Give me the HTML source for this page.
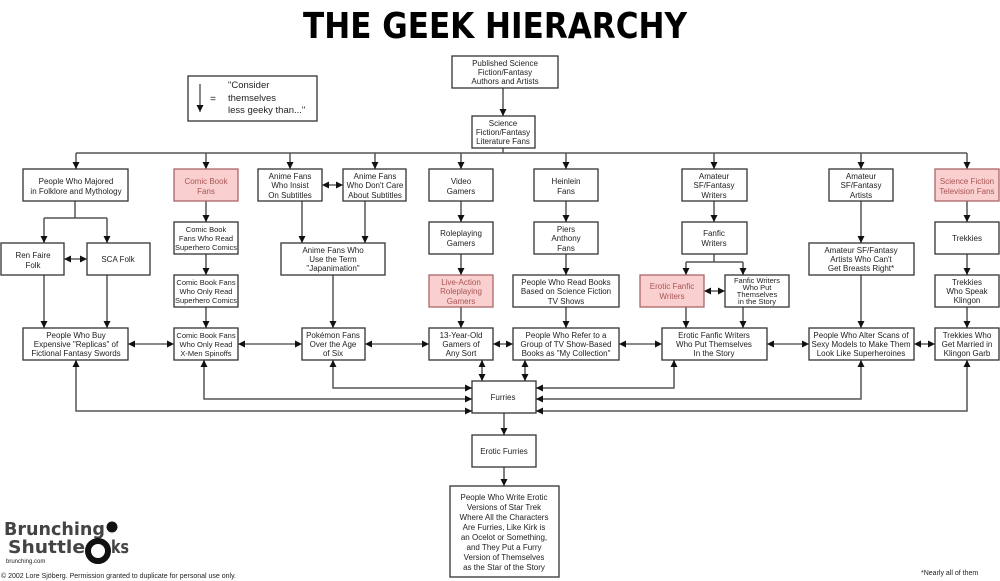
<!DOCTYPE html>
<html><head><meta charset="utf-8"><style>
body{margin:0;background:#fff}
svg{display:block}
text{font-family:"Liberation Sans",Arial,sans-serif;font-size:8px;fill:#222;text-anchor:middle}
.b{fill:#fff;stroke:#333;stroke-width:1.3}
.p{fill:#f9cfcf;stroke:#a66;stroke-width:1.3}
.pt{fill:#a55}
.l{stroke:#555;stroke-width:1.5;fill:none}
.k{stroke:#111;stroke-width:1;fill:none}
.lg{font-family:'DejaVu Sans Condensed','DejaVu Sans',sans-serif;font-weight:bold;font-size:18px;fill:#444;text-anchor:start}
</style></head><body>
<svg width="1000" height="581" viewBox="0 0 1000 581" xmlns="http://www.w3.org/2000/svg">
<defs>
<marker id="a" viewBox="0 0 8 8" refX="8" refY="4" markerWidth="7" markerHeight="7" markerUnits="userSpaceOnUse" orient="auto-start-reverse"><path d="M0,0 L8,4 L0,8 z" fill="#111"/></marker>
</defs>
<text x="495" y="38" style="font-family:'DejaVu Sans Condensed','DejaVu Sans',sans-serif;font-weight:bold;font-size:36px;fill:#000" textLength="384" lengthAdjust="spacingAndGlyphs">THE GEEK HIERARCHY</text>

<!-- legend -->
<rect x="188" y="76" width="129" height="45" class="b"/>
<line x1="200" y1="84" x2="200" y2="112" class="k" marker-end="url(#a)"/>
<text x="213" y="102" style="font-size:10px">=</text>
<text x="228" y="88" style="text-anchor:start;font-size:9.5px">"Consider</text><text x="228" y="101" style="text-anchor:start;font-size:9.5px">themselves</text><text x="228" y="113" style="text-anchor:start;font-size:9.5px">less geeky than..."</text>

<!-- connectors -->
<g class="l">
<line x1="503" y1="88" x2="503" y2="116" marker-end="url(#a)"/>
<line x1="503" y1="148" x2="503" y2="153"/>
<line x1="76" y1="153" x2="967" y2="153"/>
<line x1="76" y1="153" x2="76" y2="169" marker-end="url(#a)"/>
<line x1="206" y1="153" x2="206" y2="169" marker-end="url(#a)"/>
<line x1="290" y1="153" x2="290" y2="169" marker-end="url(#a)"/>
<line x1="375" y1="153" x2="375" y2="169" marker-end="url(#a)"/>
<line x1="461" y1="153" x2="461" y2="169" marker-end="url(#a)"/>
<line x1="566" y1="153" x2="566" y2="169" marker-end="url(#a)"/>
<line x1="714" y1="153" x2="714" y2="169" marker-end="url(#a)"/>
<line x1="861" y1="153" x2="861" y2="169" marker-end="url(#a)"/>
<line x1="967" y1="153" x2="967" y2="169" marker-end="url(#a)"/>
<line x1="75" y1="201" x2="75" y2="218"/>
<line x1="44" y1="218" x2="107" y2="218"/>
<line x1="44" y1="218" x2="44" y2="243" marker-end="url(#a)"/>
<line x1="107" y1="218" x2="107" y2="243" marker-end="url(#a)"/>
<line x1="44" y1="275" x2="44" y2="328" marker-end="url(#a)"/>
<line x1="107" y1="275" x2="107" y2="328" marker-end="url(#a)"/>
<line x1="206" y1="201" x2="206" y2="222" marker-end="url(#a)"/>
<line x1="206" y1="254" x2="206" y2="275" marker-end="url(#a)"/>
<line x1="206" y1="307" x2="206" y2="328" marker-end="url(#a)"/>
<line x1="302" y1="201" x2="302" y2="243" marker-end="url(#a)"/>
<line x1="365" y1="201" x2="365" y2="243" marker-end="url(#a)"/>
<line x1="333" y1="275" x2="333" y2="328" marker-end="url(#a)"/>
<line x1="461" y1="201" x2="461" y2="222" marker-end="url(#a)"/>
<line x1="461" y1="254" x2="461" y2="275" marker-end="url(#a)"/>
<line x1="461" y1="307" x2="461" y2="328" marker-end="url(#a)"/>
<line x1="566" y1="201" x2="566" y2="222" marker-end="url(#a)"/>
<line x1="566" y1="254" x2="566" y2="275" marker-end="url(#a)"/>
<line x1="566" y1="307" x2="566" y2="328" marker-end="url(#a)"/>
<line x1="714" y1="201" x2="714" y2="222" marker-end="url(#a)"/>
<line x1="714" y1="254" x2="714" y2="262"/>
<line x1="686" y1="262" x2="743" y2="262"/>
<line x1="686" y1="262" x2="686" y2="275" marker-end="url(#a)"/>
<line x1="743" y1="262" x2="743" y2="275" marker-end="url(#a)"/>
<line x1="686" y1="307" x2="686" y2="328" marker-end="url(#a)"/>
<line x1="743" y1="307" x2="743" y2="328" marker-end="url(#a)"/>
<line x1="861" y1="201" x2="861" y2="243" marker-end="url(#a)"/>
<line x1="861" y1="275" x2="861" y2="328" marker-end="url(#a)"/>
<line x1="967" y1="201" x2="967" y2="222" marker-end="url(#a)"/>
<line x1="967" y1="254" x2="967" y2="275" marker-end="url(#a)"/>
<line x1="967" y1="307" x2="967" y2="328" marker-end="url(#a)"/>
<polyline points="472,411 76,411 76,360" marker-start="url(#a)" marker-end="url(#a)"/>
<polyline points="472,399 204,399 204,360" marker-start="url(#a)" marker-end="url(#a)"/>
<polyline points="472,388 333,388 333,360" marker-start="url(#a)" marker-end="url(#a)"/>
<polyline points="536,388 674,388 674,360" marker-start="url(#a)" marker-end="url(#a)"/>
<polyline points="536,399 861,399 861,360" marker-start="url(#a)" marker-end="url(#a)"/>
<polyline points="536,411 967,411 967,360" marker-start="url(#a)" marker-end="url(#a)"/>
<line x1="482" y1="360" x2="482" y2="381" marker-start="url(#a)" marker-end="url(#a)"/>
<line x1="525" y1="360" x2="525" y2="381" marker-start="url(#a)" marker-end="url(#a)"/>
<line x1="504" y1="413" x2="504" y2="435" marker-end="url(#a)"/>
<line x1="504" y1="467" x2="504" y2="486" marker-end="url(#a)"/>
</g>
<g class="k">
<line x1="64" y1="259" x2="87" y2="259" marker-start="url(#a)" marker-end="url(#a)"/>
<line x1="322" y1="185" x2="343" y2="185" marker-start="url(#a)" marker-end="url(#a)"/>
<line x1="704" y1="291" x2="725" y2="291" marker-start="url(#a)" marker-end="url(#a)"/>
<line x1="128" y1="344" x2="174" y2="344" marker-start="url(#a)" marker-end="url(#a)"/>
<line x1="238" y1="344" x2="302" y2="344" marker-start="url(#a)" marker-end="url(#a)"/>
<line x1="365" y1="344" x2="429" y2="344" marker-start="url(#a)" marker-end="url(#a)"/>
<line x1="493" y1="344" x2="513" y2="344" marker-start="url(#a)" marker-end="url(#a)"/>
<line x1="619" y1="344" x2="662" y2="344" marker-start="url(#a)" marker-end="url(#a)"/>
<line x1="767" y1="344" x2="809" y2="344" marker-start="url(#a)" marker-end="url(#a)"/>
<line x1="914" y1="344" x2="935" y2="344" marker-start="url(#a)" marker-end="url(#a)"/>
</g>

<rect x="452" y="56" width="106" height="32" class="b"/>
<text x="505" y="66">Published Science</text><text x="505" y="75">Fiction/Fantasy</text><text x="505" y="84">Authors and Artists</text>
<rect x="472" y="116" width="63" height="32" class="b"/>
<text x="503" y="126">Science</text><text x="503" y="135">Fiction/Fantasy</text><text x="503" y="144">Literature Fans</text>

<rect x="23" y="169" width="105" height="32" class="b"/>
<text x="76" y="184">People Who Majored</text><text x="76" y="194">in Folklore and Mythology</text>
<rect x="174" y="169" width="64" height="32" class="p"/>
<text x="206" y="184" class="pt">Comic Book</text><text x="206" y="194" class="pt">Fans</text>
<rect x="258" y="169" width="64" height="32" class="b"/>
<text x="290" y="179">Anime Fans</text><text x="290" y="188">Who  Insist</text><text x="290" y="198">On Subtitles</text>
<rect x="343" y="169" width="63" height="32" class="b"/>
<text x="375" y="179">Anime Fans</text><text x="375" y="188">Who Don't Care</text><text x="375" y="198">About Subtitles</text>
<rect x="429" y="169" width="64" height="32" class="b"/>
<text x="461" y="184">Video</text><text x="461" y="194">Gamers</text>
<rect x="534" y="169" width="64" height="32" class="b"/>
<text x="566" y="184">Heinlein</text><text x="566" y="194">Fans</text>
<rect x="682" y="169" width="65" height="32" class="b"/>
<text x="714" y="179">Amateur</text><text x="714" y="188">SF/Fantasy</text><text x="714" y="198">Writers</text>
<rect x="829" y="169" width="64" height="32" class="b"/>
<text x="861" y="179">Amateur</text><text x="861" y="188">SF/Fantasy</text><text x="861" y="198">Artists</text>
<rect x="935" y="169" width="64" height="32" class="p"/>
<text x="967" y="184" class="pt">Science Fiction</text><text x="967" y="194" class="pt">Television Fans</text>

<rect x="1" y="243" width="63" height="32" class="b"/>
<text x="33" y="258">Ren Faire</text><text x="33" y="268">Folk</text>
<rect x="87" y="243" width="63" height="32" class="b"/>
<text x="118" y="262">SCA Folk</text>
<rect x="174" y="222" width="64" height="32" class="b"/>
<text x="206" y="232" style="font-size:7.5px">Comic Book</text><text x="206" y="241" style="font-size:7.5px">Fans Who Read</text><text x="206" y="250" style="font-size:7.5px">Superhero Comics</text>
<rect x="174" y="275" width="64" height="32" class="b"/>
<text x="206" y="285" style="font-size:7.5px">Comic Book Fans</text><text x="206" y="294" style="font-size:7.5px">Who  Only Read</text><text x="206" y="303" style="font-size:7.5px">Superhero Comics</text>
<rect x="281" y="243" width="104" height="32" class="b"/>
<text x="333" y="253">Anime Fans Who</text><text x="333" y="262">Use the Term</text><text x="333" y="271">"Japanimation"</text>
<rect x="429" y="222" width="64" height="32" class="b"/>
<text x="461" y="236">Roleplaying</text><text x="461" y="246">Gamers</text>
<rect x="429" y="275" width="64" height="32" class="p"/>
<text x="461" y="285" class="pt">Live-Action</text><text x="461" y="294" class="pt">Roleplaying</text><text x="461" y="304" class="pt">Gamers</text>
<rect x="534" y="222" width="64" height="32" class="b"/>
<text x="566" y="232">Piers</text><text x="566" y="241">Anthony</text><text x="566" y="251">Fans</text>
<rect x="513" y="275" width="106" height="32" class="b"/>
<text x="566" y="285">People Who Read Books</text><text x="566" y="294">Based on Science Fiction</text><text x="566" y="304">TV Shows</text>
<rect x="682" y="222" width="65" height="32" class="b"/>
<text x="714" y="236">Fanfic</text><text x="714" y="246">Writers</text>
<rect x="640" y="275" width="64" height="32" class="p"/>
<text x="672" y="289" class="pt">Erotic Fanfic</text><text x="672" y="299" class="pt">Writers</text>
<rect x="725" y="275" width="64" height="32" class="b"/>
<text x="757" y="283" style="font-size:7.5px">Fanfic Writers</text><text x="757" y="290" style="font-size:7.5px">Who Put</text><text x="757" y="297" style="font-size:7.5px">Themselves</text><text x="757" y="304" style="font-size:7.5px">in the Story</text>
<rect x="809" y="243" width="105" height="32" class="b"/>
<text x="861" y="253">Amateur SF/Fantasy</text><text x="861" y="262">Artists Who Can't</text><text x="861" y="271">Get Breasts Right*</text>
<rect x="935" y="222" width="64" height="32" class="b"/>
<text x="967" y="241">Trekkies</text>
<rect x="935" y="275" width="64" height="32" class="b"/>
<text x="967" y="285">Trekkies</text><text x="967" y="294">Who Speak</text><text x="967" y="303">Klingon</text>

<rect x="23" y="328" width="105" height="32" class="b"/>
<text x="76" y="338">People Who Buy</text><text x="76" y="347">Expensive "Replicas" of</text><text x="76" y="356">Fictional Fantasy Swords</text>
<rect x="174" y="328" width="64" height="32" class="b"/>
<text x="206" y="338" style="font-size:7.5px">Comic Book Fans</text><text x="206" y="347" style="font-size:7.5px">Who  Only Read</text><text x="206" y="356" style="font-size:7.5px">X-Men Spinoffs</text>
<rect x="302" y="328" width="63" height="32" class="b"/>
<text x="333" y="338">Pokémon Fans</text><text x="333" y="347">Over the Age</text><text x="333" y="356">of Six</text>
<rect x="429" y="328" width="64" height="32" class="b"/>
<text x="461" y="338">13-Year-Old</text><text x="461" y="347">Gamers of</text><text x="461" y="356">Any Sort</text>
<rect x="513" y="328" width="106" height="32" class="b"/>
<text x="566" y="338">People Who Refer to a</text><text x="566" y="347">Group of TV Show-Based</text><text x="566" y="356">Books as "My Collection"</text>
<rect x="662" y="328" width="105" height="32" class="b"/>
<text x="714" y="338">Erotic Fanfic Writers</text><text x="714" y="347">Who Put Themselves</text><text x="714" y="356">In the Story</text>
<rect x="809" y="328" width="105" height="32" class="b"/>
<text x="861" y="338">People Who Alter Scans of</text><text x="861" y="347">Sexy Models to Make Them</text><text x="861" y="356">Look Like Superheroines</text>
<rect x="935" y="328" width="64" height="32" class="b"/>
<text x="967" y="338">Trekkies Who</text><text x="967" y="347">Get Married in</text><text x="967" y="356">Klingon Garb</text>

<rect x="472" y="381" width="64" height="32" class="b"/>
<text x="503" y="400">Furries</text>
<rect x="472" y="435" width="64" height="32" class="b"/>
<text x="504" y="454">Erotic Furries</text>
<rect x="450" y="486" width="109" height="91" class="b"/>
<g style="font-size:7.8px">
<text x="504" y="500">People Who Write Erotic</text>
<text x="504" y="510">Versions of Star Trek</text>
<text x="504" y="520">Where All the Characters</text>
<text x="504" y="530">Are Furries, Like Kirk is</text>
<text x="504" y="540">an Ocelot or Something,</text>
<text x="504" y="550">and They Put a Furry</text>
<text x="504" y="560">Version of Themselves</text>
<text x="504" y="570">as the Star of the Story</text>
</g>

<!-- logo -->
<text x="4" y="535" class="lg" textLength="101" lengthAdjust="spacingAndGlyphs">Brunching</text>
<text x="8" y="553" class="lg" textLength="77" lengthAdjust="spacingAndGlyphs">Shuttle</text>
<text x="111" y="553" class="lg" textLength="18" lengthAdjust="spacingAndGlyphs">ks</text>
<circle cx="98" cy="551" r="10" fill="none" stroke="#111" stroke-width="6"/>
<circle cx="112" cy="527" r="5.5" fill="#111"/>
<text x="6" y="563" style="font-size:6px;text-anchor:start">brunching.com</text>
<text x="1" y="578" style="font-size:7px;text-anchor:start">© 2002 Lore Sjöberg. Permission granted to duplicate for personal use only.</text>
<text x="921" y="575" style="font-size:7px;text-anchor:start">*Nearly all of them</text>
</svg>
</body></html>
